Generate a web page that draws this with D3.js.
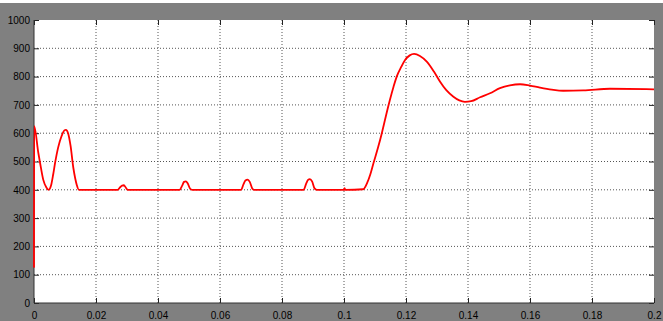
<!DOCTYPE html>
<html>
<head>
<meta charset="utf-8">
<script src="https://cdn.jsdelivr.net/npm/d3@7"></script>
<style>
  body { margin: 0; background: #808080; }
  svg { display: block; }
  .tick text { font-family: "Liberation Sans", Arial, sans-serif; font-size: 10px; fill: #000; }
</style>
</head>
<body>
<div id="chart"></div>
<script>
// time (s) and signal values
const times = [0, 0.00005, 0.0014, 0.0022, 0.003, 0.004, 0.0047, 0.0055, 0.0062, 0.0068, 0.0078, 0.0089, 0.0098, 0.0103, 0.011, 0.0118, 0.0127, 0.0133, 0.0138, 0.0145,
  0.027, 0.0278, 0.0284, 0.029, 0.0296, 0.0302,
  0.047, 0.0478, 0.0484, 0.049, 0.0496, 0.0504, 0.051,
  0.0668, 0.0676, 0.0682, 0.0689, 0.0696, 0.0704, 0.071,
  0.087, 0.0878, 0.0884, 0.089, 0.0897, 0.0905, 0.0912,
  0.1, 0.1002, 0.1004, 0.1062, 0.1075, 0.1085, 0.1095, 0.111, 0.1122, 0.1135, 0.1148, 0.116, 0.117, 0.1185, 0.1197, 0.1212, 0.1226,
  0.1245, 0.1267, 0.129, 0.131, 0.133, 0.1353, 0.1372, 0.139, 0.141, 0.1439, 0.1471, 0.1503, 0.1535, 0.1568, 0.16, 0.1632, 0.167,
  0.1707, 0.1772, 0.1858, 0.1976, 0.2];
const values = [125, 625, 530, 480, 435, 408, 400, 415, 455, 495, 550, 590, 610, 612, 600, 555, 477, 440, 417, 400,
  400, 409, 415, 416, 408, 400,
  400, 415, 428, 430, 422, 403, 400,
  400, 420, 433, 436, 428, 405, 400,
  400, 422, 435, 438, 430, 405, 400,
  400, 406, 400, 402, 425, 455, 494, 550, 600, 660, 717, 765, 800, 835, 859, 875, 880,
  873, 853, 818, 782, 752, 729, 716, 711, 713, 727, 741, 759, 769, 773, 768, 761, 754,
  750, 751, 757, 756, 755];
const xTicks = [0, 0.02, 0.04, 0.06, 0.08, 0.1, 0.12, 0.14, 0.16, 0.18, 0.2];
const yTicks = [0, 100, 200, 300, 400, 500, 600, 700, 800, 900, 1000];

const data = times.map((t, i) => ({t: t, v: values[i]}));

const W = 663, H = 321;
const margin = {top: 20, right: 9, bottom: 18, left: 34};
const width = W - margin.left - margin.right;
const height = H - margin.top - margin.bottom;

const root = d3.select("#chart").append("svg")
  .attr("width", W)
  .attr("height", H);

// grey window background with a white strip at the very top
root.append("rect").attr("width", W).attr("height", H).attr("fill", "#808080");
root.append("rect").attr("width", W).attr("height", 3).attr("fill", "#fff");

const svg = root.append("g")
  .attr("transform", `translate(${margin.left},${margin.top})`);

svg.append("rect")
  .attr("width", width)
  .attr("height", height)
  .attr("fill", "#fff");

const x = d3.scaleLinear().domain([0, 0.2]).range([0, width]);
const y = d3.scaleLinear().domain([0, 1000]).range([height, 0]);

// dotted grid
svg.append("g").selectAll("line")
  .data(xTicks.slice(1, -1))
  .enter().append("line")
  .attr("x1", d => x(d)).attr("x2", d => x(d))
  .attr("y1", 0).attr("y2", height)
  .attr("stroke", "#555").attr("stroke-dasharray", "1,2");
svg.append("g").selectAll("line")
  .data(yTicks.slice(1, -1))
  .enter().append("line")
  .attr("x1", 0).attr("x2", width)
  .attr("y1", d => y(d)).attr("y2", d => y(d))
  .attr("stroke", "#555").attr("stroke-dasharray", "1,2");

// axes with inward ticks
const fmt = d => String(d);
svg.append("g")
  .attr("transform", `translate(0,${height})`)
  .call(d3.axisBottom(x).tickValues(xTicks).tickFormat(fmt).tickSize(-5).tickPadding(9));
svg.append("g")
  .call(d3.axisLeft(y).tickValues(yTicks).tickFormat(fmt).tickSize(-5).tickPadding(4));
svg.append("g")
  .call(d3.axisTop(x).tickValues(xTicks).tickFormat("").tickSize(-5));
svg.append("g")
  .attr("transform", `translate(${width},0)`)
  .call(d3.axisRight(y).tickValues(yTicks).tickFormat("").tickSize(-5));

svg.selectAll(".domain").remove();
svg.selectAll(".tick line").attr("stroke", "#222");

// frame lines on left and bottom
svg.append("line").attr("x1", 0).attr("x2", 0).attr("y1", 0).attr("y2", height)
  .attr("stroke", "#333");
svg.append("line").attr("x1", 0).attr("x2", width).attr("y1", height).attr("y2", height)
  .attr("stroke", "#333");

// signal trace
const line = d3.line()
  .x(d => x(d.t))
  .y(d => y(d.v))
  .curve(d3.curveMonotoneX);

svg.append("path")
  .datum(data)
  .attr("fill", "none")
  .attr("stroke", "#ff0000")
  .attr("stroke-width", 1.8)
  .attr("d", line);
</script>
</body>
</html>
